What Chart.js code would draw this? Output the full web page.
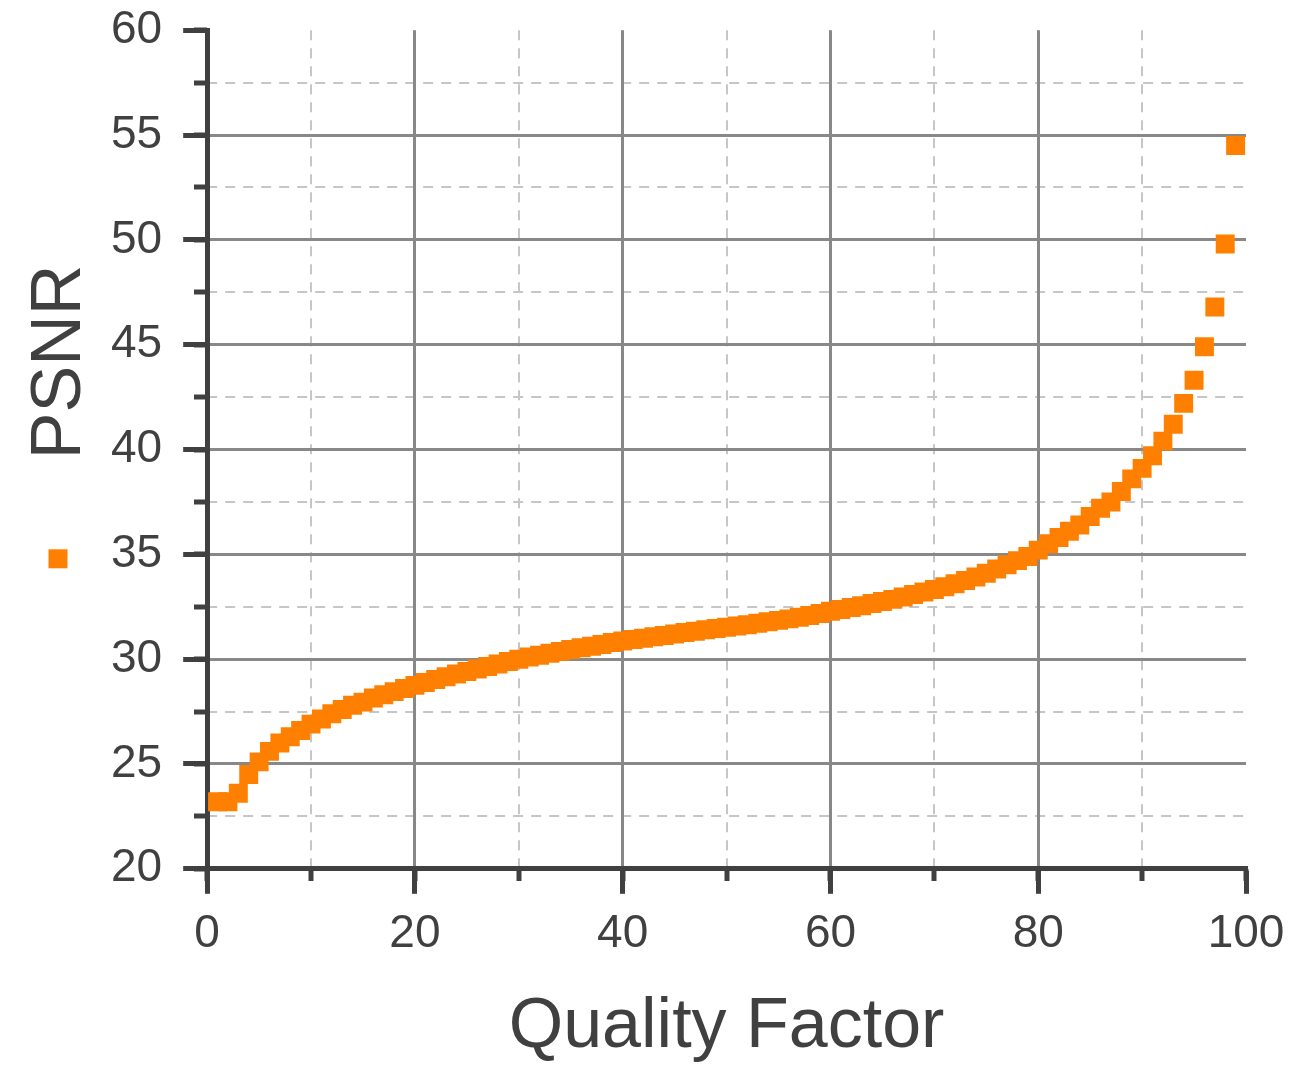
<!DOCTYPE html>
<html>
<head>
<meta charset="utf-8">
<script src="https://cdn.jsdelivr.net/npm/chart.js@4/dist/chart.umd.min.js"></script>
<style>
  html, body { margin: 0; padding: 0; background: #fff; }
  #wrap { width: 1300px; height: 1065px; }
</style>
</head>
<body>
<div id="wrap"><canvas id="psnrChart" width="1300" height="1065"></canvas></div>
<script>
const quality = [
  1, 2, 3, 4, 5, 6, 7, 8, 9, 10,
  11, 12, 13, 14, 15, 16, 17, 18, 19, 20,
  21, 22, 23, 24, 25, 26, 27, 28, 29, 30,
  31, 32, 33, 34, 35, 36, 37, 38, 39, 40,
  41, 42, 43, 44, 45, 46, 47, 48, 49, 50,
  51, 52, 53, 54, 55, 56, 57, 58, 59, 60,
  61, 62, 63, 64, 65, 66, 67, 68, 69, 70,
  71, 72, 73, 74, 75, 76, 77, 78, 79, 80,
  81, 82, 83, 84, 85, 86, 87, 88, 89, 90,
  91, 92, 93, 94, 95, 96, 97, 98, 99
];
const psnr = [
  23.2, 23.2, 23.6, 24.5, 25.1, 25.6, 26.0, 26.3, 26.6, 26.9,
  27.15, 27.4, 27.6, 27.8, 27.95, 28.15, 28.3, 28.45, 28.6, 28.75,
  28.89, 29.03, 29.16, 29.29, 29.41, 29.53, 29.65, 29.77, 29.89, 30.0,
  30.1, 30.19, 30.28, 30.37, 30.46, 30.54, 30.62, 30.7, 30.79, 30.87,
  30.94, 31.0, 31.07, 31.13, 31.2, 31.27, 31.33, 31.4, 31.46, 31.52,
  31.58, 31.64, 31.71, 31.78, 31.85, 31.92, 32.0, 32.08, 32.18, 32.28,
  32.37, 32.46, 32.55, 32.65, 32.75, 32.85, 32.96, 33.08, 33.2, 33.32,
  33.45, 33.6, 33.75, 33.92, 34.1, 34.3, 34.5, 34.7, 34.9, 35.2,
  35.5, 35.8, 36.1, 36.4, 36.8, 37.2, 37.5, 38.0, 38.6, 39.1,
  39.7, 40.4, 41.2, 42.2, 43.3, 44.9, 46.8, 49.8, 54.5
];
const xTicks = [0, 20, 40, 60, 80, 100];
const yTicks = [20, 25, 30, 35, 40, 45, 50, 55, 60];

const FONT = "'Liberation Sans', Arial, Helvetica, sans-serif";
const INK = '#404040';
const MAJOR = '#888888';
const MINOR = '#c6c6c6';
const NONE = 'rgba(0,0,0,0)';

// small orange square next to the y title (legend symbol)
const legendMark = {
  id: 'legendMark',
  afterDraw(chart) {
    const ctx = chart.ctx;
    const ys = chart.scales.y;
    const ds = chart.data.datasets[0];
    const cx = ys.left + 48;
    const cy = chart.chartArea.bottom - 310;
    ctx.save();
    ctx.fillStyle = ds.backgroundColor;
    ctx.fillRect(cx - 9.5, cy - 9.5, 19, 19);
    ctx.restore();
  }
};

const ctx = document.getElementById('psnrChart').getContext('2d');
new Chart(ctx, {
  type: 'scatter',
  data: {
    datasets: [{
      label: 'PSNR',
      data: quality.map((q, i) => ({ x: q, y: psnr[i] })),
      backgroundColor: '#ff8000',
      borderWidth: 0,
      pointStyle: 'rect',
      pointRadius: 13.4,
      pointHoverRadius: 13.4
    }]
  },
  options: {
    responsive: false,
    animation: false,
    events: [],
    layout: { padding: { left: 10, right: 54, top: 30, bottom: 0 } },
    plugins: {
      legend: { display: false },
      tooltip: { enabled: false }
    },
    scales: {
      // minor gridlines + short tick marks (drawn first, under the major ones)
      xMinor: {
        type: 'linear', axis: 'x', position: { y: 20 },
        min: 0, max: 100,
        ticks: { stepSize: 10, display: false },
        grid: {
          color: c => (c.tick && c.tick.value === 100) ? NONE : MINOR,
          lineWidth: 2, tickLength: 12, tickWidth: 5, tickColor: INK
        },
        border: { display: false, dash: [10, 8] }
      },
      yMinor: {
        type: 'linear', axis: 'y', position: { x: 0 },
        min: 20, max: 60,
        ticks: { stepSize: 2.5, display: false },
        grid: {
          color: c => (c.tick && c.tick.value === 60) ? NONE : MINOR,
          lineWidth: 2, tickLength: 13, tickWidth: 5, tickColor: INK
        },
        border: { display: false, dash: [10, 8] }
      },
      x: {
        type: 'linear', position: 'bottom',
        min: 0, max: 100,
        afterBuildTicks: s => { s.ticks = xTicks.map(v => ({ value: v })); },
        ticks: { color: INK, padding: 13, font: { family: FONT, size: 46 }, maxRotation: 0 },
        grid: {
          color: c => (c.tick && (c.tick.value === 100 || c.tick.value === 0)) ? NONE : MAJOR,
          lineWidth: 3, tickLength: 25, tickWidth: 5, tickColor: INK
        },
        border: { color: INK, width: 5 },
        title: {
          display: true, text: 'Quality Factor', color: INK,
          font: { family: FONT, size: 70, lineHeight: 1 },
          padding: { top: 18, bottom: 2 }
        }
      },
      y: {
        type: 'linear', position: 'left',
        min: 20, max: 60,
        afterBuildTicks: s => { s.ticks = yTicks.map(v => ({ value: v })); },
        ticks: { color: INK, padding: 21, font: { family: FONT, size: 46, lineHeight: 0.4 } },
        grid: {
          color: c => (c.tick && (c.tick.value === 60 || c.tick.value === 20)) ? NONE : MAJOR,
          lineWidth: 3, tickLength: 24, tickWidth: 5, tickColor: INK
        },
        border: { color: INK, width: 5 },
        title: {
          display: true, text: '         PSNR', color: INK,
          font: { family: FONT, size: 70, lineHeight: 1 },
          padding: { top: 16, bottom: -6 }
        }
      }
    }
  },
  plugins: [legendMark]
});
</script>
</body>
</html>
